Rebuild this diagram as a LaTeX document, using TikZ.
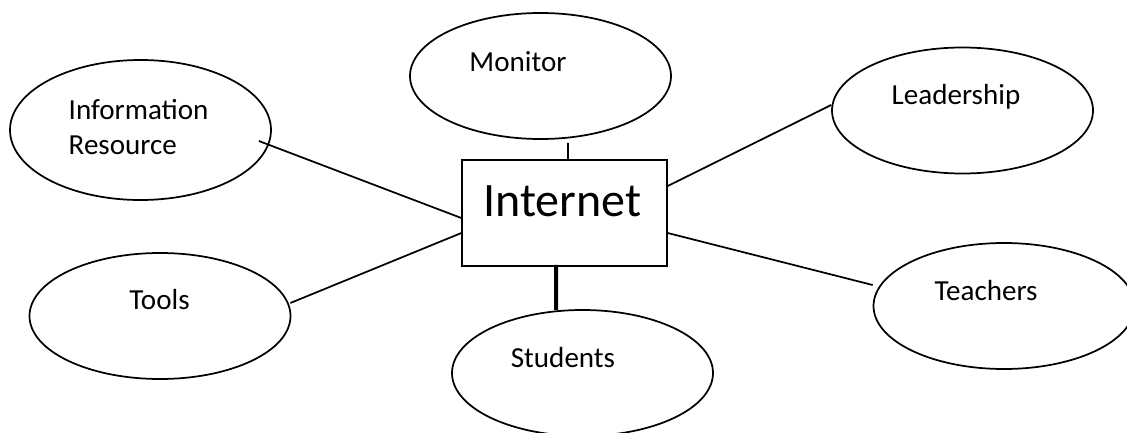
\documentclass[tikz,border=0pt]{standalone}
\usepackage{fontspec}
\setmainfont{Carlito}
\usetikzlibrary{shapes.geometric}
\tikzset{topic/.style={draw,ellipse,line width=1.3pt,minimum width=195.75pt,minimum height=94.5pt,inner sep=0pt},
  lbl/.style={font=\fontsize{21.8pt}{26pt}\selectfont,align=left},
  link/.style={line width=1.3pt}}
\begin{document}
\begin{tikzpicture}[x=1pt,y=-1pt,scale=0.75]
\useasboundingbox (0,0) rectangle (1127,432);
\node[draw,line width=1.3pt,minimum width=153.5pt,minimum height=79.5pt,inner sep=0pt] (net) at (564.5,213) {};
\node[font=\fontsize{36pt}{42pt}\selectfont] (nett) at (562.5,201) {Internet};
\node[topic,minimum height=105pt] (info) at (140.5,130) {};
\node[topic] (mon) at (540.5,76) {};
\node[topic] (lead) at (962.5,110.5) {};
\node[topic] (tools) at (160,316) {};
\node[topic] (stud) at (582.5,373) {};
\node[topic] (teach) at (1004,306) {};
\node[lbl,anchor=west] (infot) at (64,127) {Information\\Resource};
\node[lbl] (mont) at (518,62) {Monitor};
\node[lbl] (leadt) at (956,97) {Leadership};
\node[lbl] (toolt) at (159.5,300) {Tools};
\node[lbl] (studt) at (563,358) {Students};
\node[lbl] (teacht) at (986,291) {Teachers};
\draw[link] ([shift={(-13,11)}]info.east) -- ([shift={(0,5)}]net.west);
\draw[link] ([shift={(27.5,3)}]mon.south) -- ([shift={(3.5,0)}]net.north);
\draw[link] ([shift={(0,-5.5)}]lead.west) -- ([shift={(0,-27)}]net.east);
\draw[link] ([shift={(-1,-13)}]tools.east) -- ([shift={(0,20)}]net.west);
\draw[line width=3pt] ([shift={(-8.5,-2)}]net.south) -- ([shift={(-26.5,1)}]stud.north);
\draw[link] ([shift={(0,20)}]net.east) -- ([shift={(0,-21)}]teach.west);
\end{tikzpicture}
\end{document}
